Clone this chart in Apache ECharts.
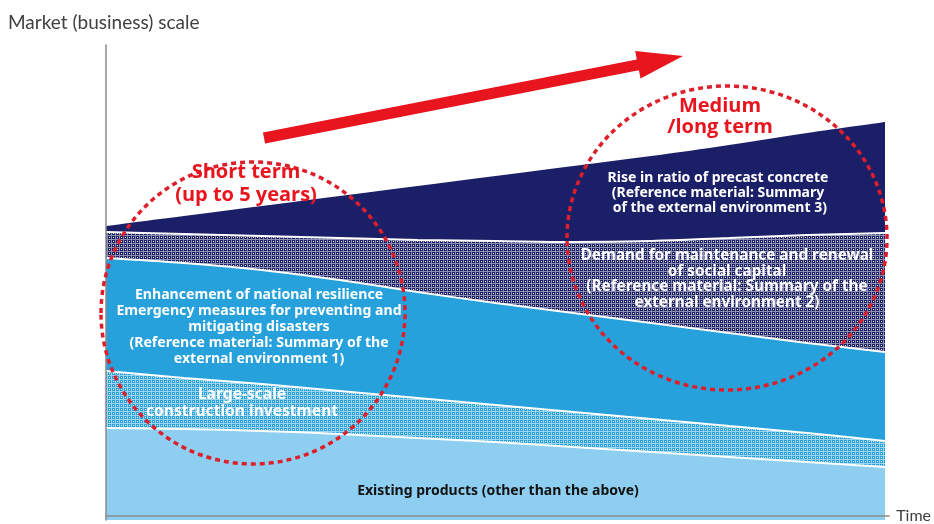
<!DOCTYPE html>
<html>
<head>
<meta charset="utf-8">
<script src="https://cdn.jsdelivr.net/npm/echarts@6/dist/echarts.min.js"></script>
<style>
  html, body { margin: 0; padding: 0; background: #fff; }
  #chart { width: 934px; height: 524px; }
</style>
</head>
<body>
<div id="chart"></div>
<script>
// Time steps along the horizontal axis
const timeSteps = ['0', '1', '2', '3', '4', '5', '6', '7', '8', '9', '10'];

// Thickness of each market layer (stacked from the bottom up)
const existingProducts     = [18.4, 18.2, 17.8, 17.2, 16.4, 15.6, 14.6, 13.6, 12.6, 11.6, 10.6];
const largeScaleInvestment = [11.4, 10.2, 9.4, 8.6, 8.0, 7.4, 7.0, 6.6, 6.2, 5.8, 5.2];
const nationalResilience   = [22.6, 23.0, 22.8, 22.2, 21.2, 20.4, 19.8, 19.2, 18.6, 18.0, 17.8];
const maintenanceRenewal   = [5.2, 5.8, 6.8, 8.4, 10.4, 12.4, 14.2, 16.4, 19.0, 21.6, 23.8];
const precastRatio         = [1.2, 3.6, 6.0, 8.4, 10.8, 13.0, 15.2, 17.0, 18.6, 20.4, 22.2];

const layerNames = [
  'Existing products (other than the above)',
  'Large-scale construction investment',
  'Enhancement of national resilience',
  'Demand for maintenance and renewal of social capital',
  'Rise in ratio of precast concrete'
];

const NAVY = '#1B1F67';
const MID_BLUE = '#27A1DB';
const LIGHT_BLUE = '#8ECFF1';
const RED = '#E8141E';
const DOT_RED = '#DC1F2A';

// Fine halftone mesh used for the hatched layers
function meshPattern(base, alphaLine) {
  const c = document.createElement('canvas');
  c.width = 4; c.height = 4;
  const g = c.getContext('2d');
  g.fillStyle = base;
  g.fillRect(0, 0, 4, 4);
  g.fillStyle = '#ffffff';
  g.globalAlpha = alphaLine;
  g.fillRect(3, 0, 1, 4);
  g.fillRect(0, 3, 3, 1);
  g.globalAlpha = 1;
  g.fillRect(1, 1, 1, 1);
  return { image: c, repeat: 'repeat' };
}

const fills = [
  LIGHT_BLUE,
  meshPattern(MID_BLUE, 0.55),
  MID_BLUE,
  meshPattern(NAVY, 0.5),
  NAVY
];
const layerData = [existingProducts, largeScaleInvestment, nationalResilience, maintenanceRenewal, precastRatio];

const series = layerData.map((vals, k) => ({
  type: 'line',
  name: layerNames[k],
  stack: 'market',
  smooth: 0.35,
  symbol: 'none',
  silent: true,
  xAxisIndex: 0,
  yAxisIndex: 0,
  data: vals,
  lineStyle: { color: '#ffffff', width: k === layerData.length - 1 ? 0 : 2 },
  areaStyle: { color: fills[k], opacity: 1 },
  z: 2
}));

// Thick red arrow showing growth over time
function arrowPoints(x1, y1, x2, y2, shaft, headLen, headHalf) {
  const dx = x2 - x1, dy = y2 - y1;
  const len = Math.hypot(dx, dy);
  const ux = dx / len, uy = dy / len;
  const nx = -uy, ny = ux;
  const bx = x2 - ux * headLen, by = y2 - uy * headLen;
  const s = shaft / 2;
  return [
    [x1 + nx * s, y1 + ny * s],
    [bx + nx * s, by + ny * s],
    [bx + nx * headHalf, by + ny * headHalf],
    [x2, y2],
    [bx - nx * headHalf, by - ny * headHalf],
    [bx - nx * s, by - ny * s],
    [x1 - nx * s, y1 - ny * s]
  ];
}

function label(text, x, y, size, fill, lh) {
  return {
    type: 'text',
    z: 20,
    silent: true,
    style: {
      text: text, x: x, y: y, fill: fill,
      font: 'bold ' + size + 'px "Noto Sans", sans-serif',
      align: 'center', verticalAlign: 'middle', lineHeight: lh
    }
  };
}

function heading(text, x, y, lh) {
  return {
    type: 'text',
    z: 20,
    silent: true,
    style: {
      text: text, x: x, y: y, fill: RED,
      font: 'bold 20px "Open Sans", sans-serif',
      align: 'center', verticalAlign: 'middle', lineHeight: lh
    }
  };
}

const hiddenAxis = {
  axisLine: { show: false }, axisTick: { show: false },
  axisLabel: { show: false }, splitLine: { show: false }
};

const option = {
  animation: false,
  title: {
    text: 'Market (business) scale',
    left: 3, top: 8,
    textStyle: { fontFamily: 'Lato', fontSize: 19, fontWeight: 'normal', color: '#404040' }
  },
  grid: [
    { left: 106, right: 49, top: 45, bottom: 4 },
    { left: 106, right: 41, top: 45, bottom: 4 }
  ],
  xAxis: [
    Object.assign({ type: 'category', gridIndex: 0, data: timeSteps, boundaryGap: false }, hiddenAxis),
    {
      type: 'value', gridIndex: 1, min: 0, max: 1, z: 5,
      name: 'Time', nameLocation: 'end', nameGap: 7,
      nameTextStyle: { fontFamily: 'Lato', fontSize: 16, color: '#404040' },
      axisLine: { show: true, lineStyle: { color: '#8a8a8a', width: 1.5 } },
      axisTick: { show: false }, axisLabel: { show: false }, splitLine: { show: false }
    }
  ],
  yAxis: [
    {
      type: 'value', gridIndex: 0, min: 0, max: 95, z: 5,
      axisLine: { show: true, lineStyle: { color: '#8a8a8a', width: 1.5 } },
      axisTick: { show: false }, axisLabel: { show: false }, splitLine: { show: false }
    },
    Object.assign({ type: 'value', gridIndex: 1, min: 0, max: 1 }, hiddenAxis)
  ],
  series: series,
  graphic: [
    {
      type: 'polygon', z: 15, silent: true,
      shape: { points: arrowPoints(264, 138, 683, 56, 11, 46, 14) },
      style: { fill: RED }
    },
    {
      type: 'ellipse', z: 16, silent: true,
      shape: { cx: 253, cy: 313, rx: 152, ry: 151 },
      style: { fill: 'none', stroke: DOT_RED, lineWidth: 3.5, lineDash: [5, 4] }
    },
    {
      type: 'ellipse', z: 16, silent: true,
      shape: { cx: 727, cy: 238, rx: 160, ry: 152 },
      style: { fill: 'none', stroke: DOT_RED, lineWidth: 3.5, lineDash: [5, 4] }
    },
    heading('Short term\n(up to 5 years)', 246, 184, 23),
    heading('Medium\n/long term', 720, 117, 21),
    label('Rise in ratio of precast concrete\n(Reference material: Summary\n of the external environment 3)',
      718, 193, 14, '#ffffff', 15),
    label('Demand for maintenance and renewal\nof social capital\n(Reference material: Summary of the\nexternal environment 2)',
      727, 279, 15.3, '#ffffff', 15.7),
    label('Enhancement of national resilience\nEmergency measures for preventing and\nmitigating disasters\n(Reference material: Summary of the\nexternal environment 1)',
      259, 327, 14.1, '#ffffff', 16),
    label('Large-scale\nconstruction investment', 242, 403, 15.6, '#ffffff', 17),
    label('Existing products (other than the above)', 498, 491, 14, '#111111', 16)
  ]
};

const chart = echarts.init(document.getElementById('chart'), null, { renderer: 'canvas' });
chart.setOption(option);
</script>
</body>
</html>
